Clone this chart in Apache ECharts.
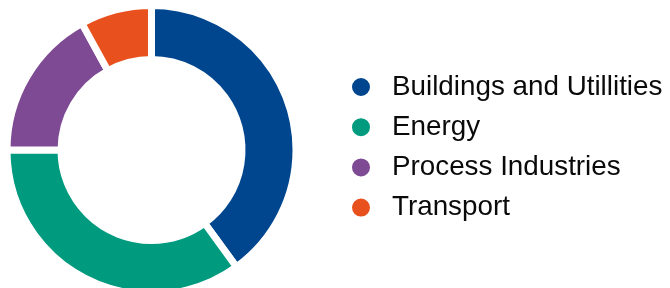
<!DOCTYPE html>
<html>
<head>
<meta charset="utf-8">
<script src="https://cdn.jsdelivr.net/npm/echarts@6/dist/echarts.min.js"></script>
<style>
  html, body { margin: 0; padding: 0; background: #fff; }
  #chart { width: 670px; height: 288px; }
</style>
</head>
<body>
<div id="chart"></div>
<script>
// sectors, clockwise from 12 o'clock
const categories = ['Buildings and Utillities', 'Energy', 'Process Industries', 'Transport'];
const shares = [40, 35, 17, 8];
const colors = ['#00468E', '#009B7E', '#7E4A94', '#E8501D'];

const chart = echarts.init(document.getElementById('chart'));

chart.setOption({
  animation: false,
  color: colors,
  legend: {
    orient: 'vertical',
    left: 345,
    top: 68,
    icon: 'circle',
    itemWidth: 20,
    itemHeight: 20,
    itemGap: 12.2,
    textStyle: {
      fontFamily: 'Liberation Sans, Arial, sans-serif',
      fontSize: 27.8,
      color: '#0a0a0a',
      padding: [0, 0, 0, 16]
    },
    data: categories
  },
  series: [{
    type: 'pie',
    center: [151.5, 150],
    radius: [90.5, 144.5],
    startAngle: 90,
    clockwise: true,
    label: { show: false },
    labelLine: { show: false },
    emphasis: { disabled: true },
    itemStyle: { borderColor: '#fff', borderWidth: 7 },
    data: categories.map((name, i) => ({ name: name, value: shares[i] }))
  }]
});
</script>
</body>
</html>
